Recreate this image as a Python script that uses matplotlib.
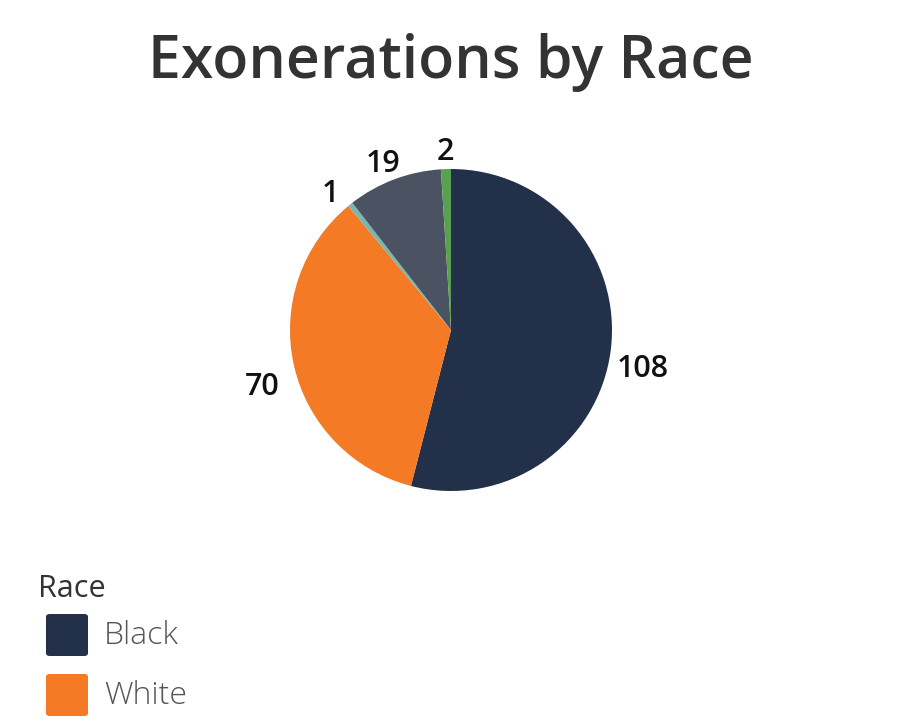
import matplotlib
matplotlib.use("Agg")
import matplotlib.pyplot as plt
from matplotlib.patches import FancyBboxPatch

categories = ["Black", "White", "Other", "Hispanic", "Asian"]
values = [108, 70, 1, 19, 2]
colors = ["#223049", "#f47a25", "#76b7b2", "#4b5363", "#59a14f"]
legend_items = ["Black", "White"]

W, H = 904, 727
fig = plt.figure(figsize=(W / 100, H / 100), dpi=100)

cx, cy, R = 451, 330, 161
ax = fig.add_axes([(cx - R) / W, (H - cy - R) / H, 2 * R / W, 2 * R / H])
wedges, texts = ax.pie(values, colors=colors, startangle=90, counterclock=False,
                       labels=[str(v) for v in values], labeldistance=1.2,
                       wedgeprops=dict(linewidth=0),
                       textprops=dict(fontsize=22, color="#111111", family="Open Sans",
                                      fontweight="semibold"))
for t in texts:
    t.set_ha("center")
    t.set_va("top")
ax.set_xlim(-1, 1)
ax.set_ylim(-1, 1)
ax.set_aspect("equal")
ax.axis("off")

fig.text(451 / W, 1 - 63 / H, "Exonerations by Race", ha="center", va="center",
         fontsize=42.5, color="#333333", family="Open Sans", fontweight="semibold")

fig.text(38 / W, 1 - 589 / H, "Race", ha="left", va="center", fontsize=22,
         color="#333333", family="Open Sans")

for i, name in enumerate(legend_items):
    top = 614 + i * 60
    box = FancyBboxPatch((46 / W, 1 - (top + 42) / H), 42 / W, 42 / H,
                         boxstyle="round,pad=0,rounding_size=0.004",
                         transform=fig.transFigure, facecolor=colors[categories.index(name)],
                         edgecolor="none")
    fig.patches.append(box)
    fig.text(104 / W, 1 - (top + 22) / H, name, ha="left", va="center", fontsize=23,
             color="#555555", family="Open Sans", fontweight="light")

fig.savefig("out.png", dpi=100)
